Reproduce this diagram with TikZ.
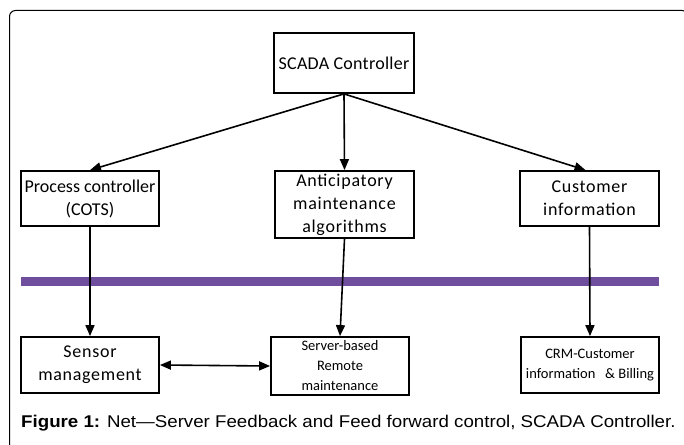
\documentclass[tikz,border=0pt]{standalone}
\usepackage{fontspec}
\setmainfont{Carlito}
\newfontfamily\capfont[FakeStretch=1.10]{Liberation Sans}
\newfontfamily\spacedfont[LetterSpace=4]{Carlito}
\newfontfamily\lightspacedfont[LetterSpace=1.5]{Carlito}
\usetikzlibrary{arrows.meta}
\definecolor{barpurple}{RGB}{112,78,158}
\tikzset{
  box/.style={draw=black, line width=1.8pt, inner sep=0pt, align=center, font=\fontsize{18}{23}\selectfont},
  spacedbox/.style={box, font=\spacedfont\fontsize{18}{23}\selectfont},
  smallbox/.style={box, font=\fontsize{14.5}{20}\selectfont},
  conn/.style={line width=1.6pt, -{Triangle[length=11pt,width=9pt]}},
  dconn/.style={line width=1.6pt, {Triangle[length=11pt,width=9pt]}-{Triangle[length=11pt,width=9pt]}}
}
\begin{document}
\begin{tikzpicture}[x=1pt,y=-1pt]
\useasboundingbox (0,0) rectangle (684,444);
\draw[line width=1pt, rounded corners=6pt] (9.5,460) -- (9.5,10.5) -- (688,10.5) -- (688,460);
\node[box, font=\lightspacedfont\fontsize{18}{23}\selectfont, minimum width=140pt, minimum height=60pt] (scada) at (344,63) {SCADA Controller};
\node[box, minimum width=138pt, minimum height=55pt] (proc) at (90,198.5) {Process controller\\(COTS)};
\node[spacedbox, minimum width=139pt, minimum height=67pt] (anti) at (344.5,204.5) {Anticipatory\\maintenance\\algorithms};
\node[spacedbox, minimum width=139pt, minimum height=55pt] (cust) at (589.5,198.5) {Customer\\information};
\fill[barpurple] (21,277) rectangle (659,286);
\node[spacedbox, minimum width=138pt, minimum height=56pt] (sensor) at (90,365) {Sensor\\management};
\node[smallbox, minimum width=138pt, minimum height=58pt] (server) at (340,366) {Server-based\\Remote\\maintenance};
\node[smallbox, minimum width=138pt, minimum height=56pt] (crm) at (590,365) {CRM-Customer\\information \ \ \& Billing};
\coordinate (s0) at (scada.south);
\draw[conn] (s0) -- (proc.north);
\draw[conn] (s0) -- (anti.north);
\draw[conn] (s0) -- ([xshift=-4pt]cust.north);
\draw[conn] (proc.south) -- (sensor.north);
\draw[conn] (anti.south) -- (server.north);
\draw[conn] (cust.south) -- (crm.north);
\draw[dconn] (sensor.east) -- (server.west);
\node[anchor=base west, inner sep=0pt, font=\capfont\fontsize{17}{19}\selectfont] (cap) at (21,427) {\textbf{Figure 1:} Net—Server Feedback and Feed forward control, SCADA Controller.};
\end{tikzpicture}
\end{document}
